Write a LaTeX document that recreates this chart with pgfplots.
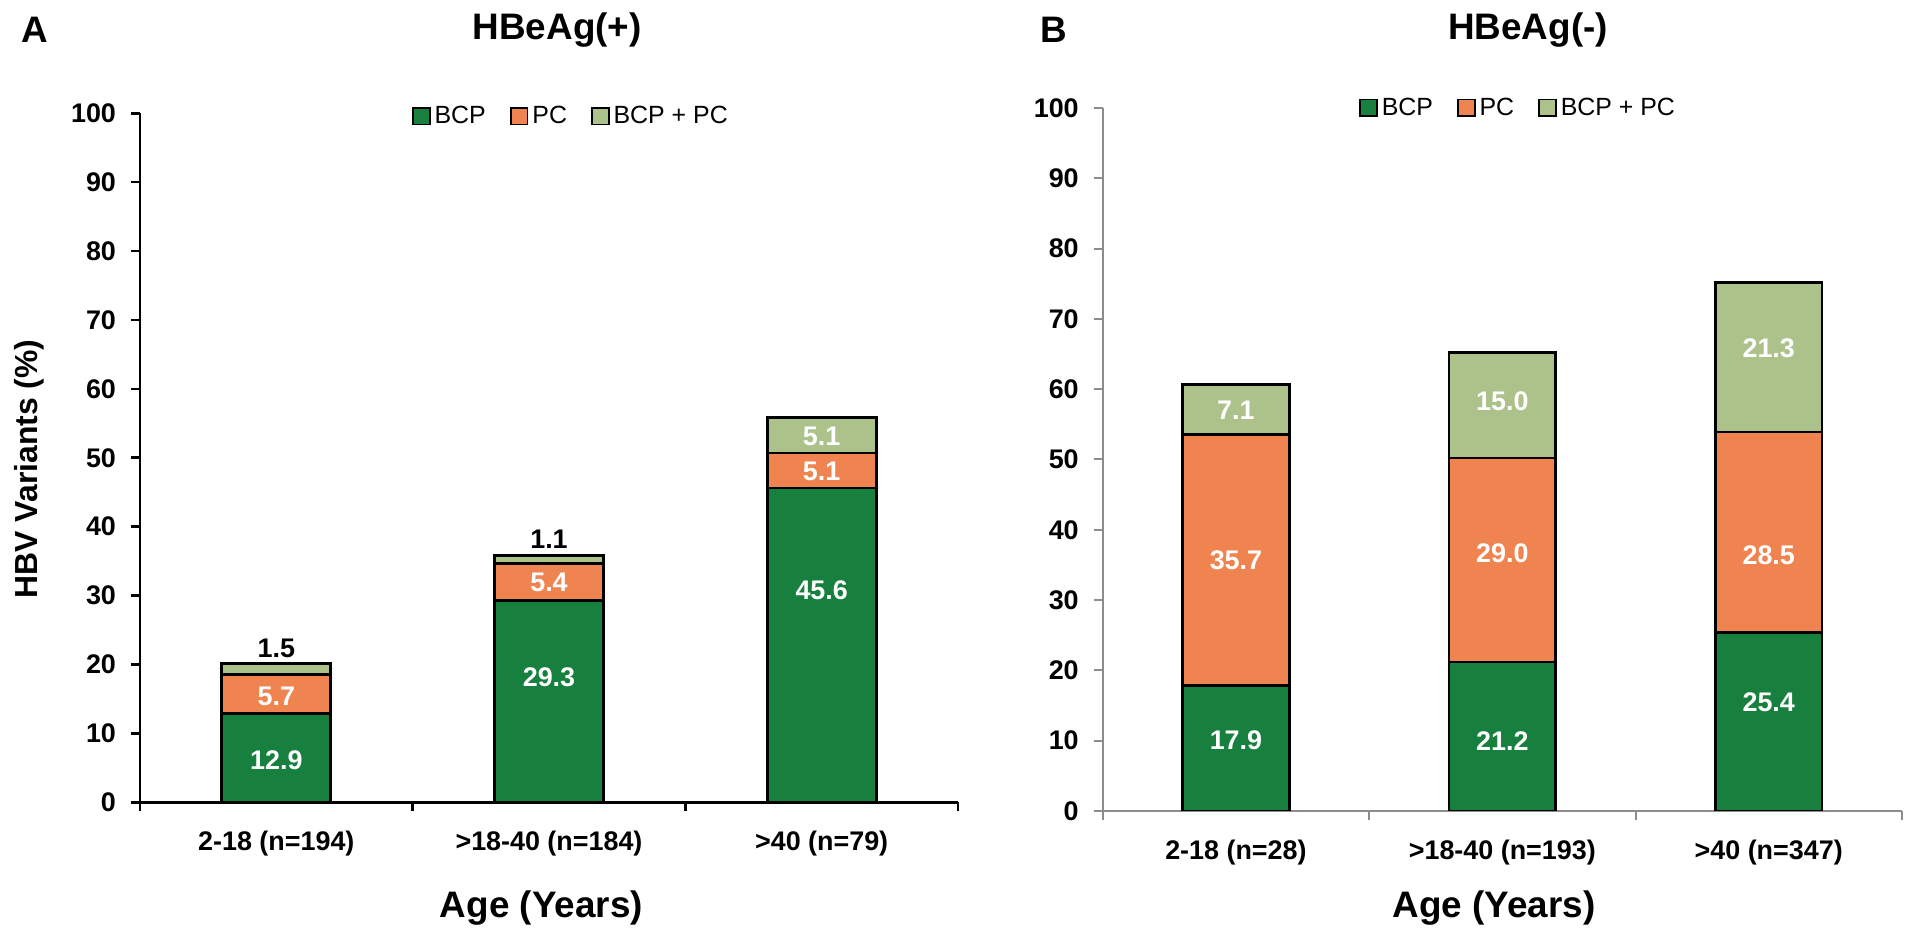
\documentclass[border=0pt]{standalone}
\usepackage{pgfplots}
\pgfplotsset{compat=1.18}
\usepackage{fontspec}
\setmainfont{Liberation Sans}

\definecolor{bcp}{RGB}{24,128,62}
\definecolor{pc}{RGB}{240,132,80}
\definecolor{both}{RGB}{173,194,139}
\definecolor{axgray}{RGB}{140,140,140}

\newcommand{\lbl}{\bfseries\fontsize{13.5}{13.5}\selectfont}
\tikzset{dl/.style={font=\lbl, white}}

\pgfplotsset{
  panel/.style={
    scale only axis,
    anchor=south west,
    xmin=-0.5, xmax=2.5, ymin=0, ymax=100,
    axis x line*=bottom, axis y line*=left,
    ybar stacked, bar width=0.4,
    xtick={-0.5,0.5,1.5,2.5}, xticklabels={},
    extra x ticks={0,1,2},
    extra x tick style={major tick length=0pt, xticklabel style={yshift=-11bp}},
    ytick={0,10,...,100},
    tick align=outside, major tick length=4.5bp,
    /pgf/number format/assume math mode=true,
    ticklabel style={font=\lbl},
    yticklabel style={xshift=-4bp},
    every axis plot/.append style={draw=black, line width=1.4bp},
    legend columns=-1,
    legend style={draw=none, fill=none, anchor=center,
      font=\fontsize{12.5}{12.5}\selectfont,
      /tikz/every even column/.append style={column sep=10bp}},
    legend image code/.code={\draw[##1, line width=0.9bp] (0bp,-4.2bp) rectangle (8.4bp,4.2bp);},
  },
}

\begin{document}
\begin{tikzpicture}[x=1bp, y=1bp]
\path[use as bounding box, fill=white] (0,0) rectangle (960,469);

% panel A: HBeAg(+)
\begin{axis}[panel,
  at={(70bp,67.85bp)}, width=409bp, height=344.5bp,
  axis line style={black, line width=1.3bp},
  tick style={black, line width=1.3bp},
  extra x tick labels={2-18 (n=194), >18-40 (n=184), >40 (n=79)},
  legend style={at={(0.528,0.996)}}]
\addplot[fill=bcp] coordinates {(0,12.9) (1,29.3) (2,45.6)};
\addplot[fill=pc] coordinates {(0,5.7) (1,5.4) (2,5.1)};
\addplot[fill=both] coordinates {(0,1.5) (1,1.1) (2,5.1)};
\legend{BCP, PC, BCP + PC}
\coordinate (a1) at (axis cs:0,6.1);
\coordinate (a2) at (axis cs:0,15.4);
\coordinate (a3) at (axis cs:0,22.3);
\coordinate (a4) at (axis cs:1,18.2);
\coordinate (a5) at (axis cs:1,31.9);
\coordinate (a6) at (axis cs:1,38.2);
\coordinate (a7) at (axis cs:2,30.8);
\coordinate (a8) at (axis cs:2,48.0);
\coordinate (a9) at (axis cs:2,53.1);
\end{axis}
\node[dl] at (a1) {12.9};
\node[dl] at (a2) {5.7};
\node[dl, black] at (a3) {1.5};
\node[dl] at (a4) {29.3};
\node[dl] at (a5) {5.4};
\node[dl, black] at (a6) {1.1};
\node[dl] at (a7) {45.6};
\node[dl] at (a8) {5.1};
\node[dl] at (a9) {5.1};

% panel B: HBeAg(-)
\begin{axis}[panel,
  at={(551.35bp,63.5bp)}, width=399.6bp, height=351.5bp,
  axis line style={axgray, line width=1bp},
  tick style={axgray, line width=1bp},
  extra x tick labels={2-18 (n=28), >18-40 (n=193), >40 (n=347)},
  legend style={at={(0.521,1.0)}}]
\addplot[fill=bcp] coordinates {(0,17.9) (1,21.2) (2,25.4)};
\addplot[fill=pc] coordinates {(0,35.7) (1,29.0) (2,28.5)};
\addplot[fill=both] coordinates {(0,7.1) (1,15.0) (2,21.3)};
\legend{BCP, PC, BCP + PC}
\coordinate (b1) at (axis cs:0,10.1);
\coordinate (b2) at (axis cs:0,35.7);
\coordinate (b3) at (axis cs:0,57.0);
\coordinate (b4) at (axis cs:1,9.9);
\coordinate (b5) at (axis cs:1,36.6);
\coordinate (b6) at (axis cs:1,58.3);
\coordinate (b7) at (axis cs:2,15.5);
\coordinate (b8) at (axis cs:2,36.4);
\coordinate (b9) at (axis cs:2,65.8);
\end{axis}
\node[dl] at (b1) {17.9};
\node[dl] at (b2) {35.7};
\node[dl] at (b3) {7.1};
\node[dl] at (b4) {21.2};
\node[dl] at (b5) {29.0};
\node[dl] at (b6) {15.0};
\node[dl] at (b7) {25.4};
\node[dl] at (b8) {28.5};
\node[dl] at (b9) {21.3};

% titles and axis labels
\begin{scope}[every node/.style={font=\bfseries\fontsize{18.5}{18.5}\selectfont}]
\node at (17.5,454) {A};
\node at (526.8,454) {B};
\node at (278.6,454) {HBeAg(+)};
\node at (764,454) {HBeAg(-)};
\node at (270.7,15) {Age (Years)};
\node at (747,15) {Age (Years)};
\node[rotate=90, font=\bfseries\fontsize{16}{16}\selectfont] at (14.5,234.5) {HBV Variants (\%)};
\end{scope}
\end{tikzpicture}
\end{document}
